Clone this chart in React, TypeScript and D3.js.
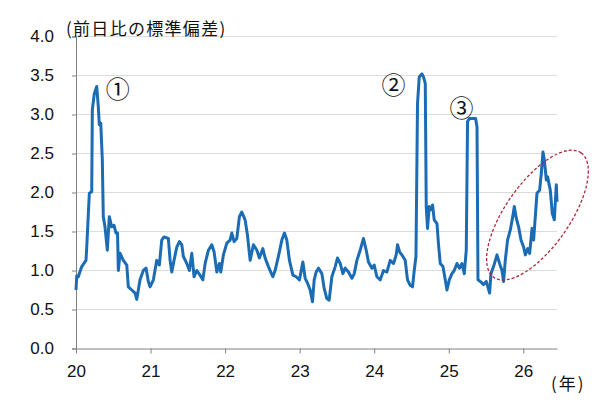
import React, { useRef, useEffect } from 'react';
import * as d3 from 'd3';

// year (20 = 2020) and standard deviation of day-on-day change
const years = [
  20.0, 20.01, 20.031, 20.077, 20.134, 20.144, 20.179, 20.211, 20.219, 20.246, 20.278, 20.299, 20.313, 20.332,
  20.353, 20.366, 20.389, 20.42, 20.447, 20.479, 20.51, 20.537, 20.557, 20.568, 20.591, 20.635, 20.681, 20.702,
  20.748, 20.792, 20.815, 20.859, 20.903, 20.94, 20.97, 20.993, 21.038, 21.083, 21.118, 21.15, 21.181, 21.239,
  21.262, 21.285, 21.315, 21.352, 21.387, 21.419, 21.44, 21.486, 21.521, 21.553, 21.584, 21.62, 21.664, 21.701,
  21.732, 21.776, 21.821, 21.852, 21.889, 21.923, 21.942, 21.977, 22.023, 22.067, 22.09, 22.121, 22.157, 22.192,
  22.224, 22.268, 22.299, 22.336, 22.38, 22.426, 22.46, 22.506, 22.537, 22.581, 22.64, 22.671, 22.715, 22.761,
  22.796, 22.828, 22.863, 22.909, 22.953, 22.997, 23.043, 23.074, 23.105, 23.141, 23.172, 23.195, 23.221, 23.252,
  23.298, 23.329, 23.365, 23.396, 23.432, 23.477, 23.507, 23.544, 23.58, 23.611, 23.655, 23.701, 23.732, 23.768,
  23.812, 23.856, 23.893, 23.923, 23.969, 24.0, 24.036, 24.081, 24.125, 24.17, 24.215, 24.259, 24.295, 24.313,
  24.34, 24.385, 24.416, 24.447, 24.483, 24.514, 24.537, 24.56, 24.581, 24.604, 24.64, 24.662, 24.685, 24.698,
  24.715, 24.738, 24.761, 24.783, 24.805, 24.842, 24.863, 24.886, 24.922, 24.953, 24.976, 25.007, 25.043, 25.074,
  25.11, 25.145, 25.177, 25.208, 25.235, 25.252, 25.279, 25.333, 25.36, 25.379, 25.392, 25.423, 25.467, 25.503,
  25.548, 25.566, 25.601, 25.647, 25.682, 25.714, 25.736, 25.758, 25.789, 25.826, 25.862, 25.879, 25.906, 25.937,
  25.969, 26.004, 26.027, 26.058, 26.085, 26.117, 26.138, 26.161, 26.183, 26.219, 26.242, 26.264, 26.282, 26.309,
  26.326, 26.362, 26.389, 26.416, 26.443, 26.452,
];
const values = [
  0.75, 0.93, 0.92, 1.05, 1.13, 1.3, 1.99, 2.01, 3.06, 3.27, 3.36, 3.1, 2.87, 2.89,
  2.42, 1.69, 1.56, 1.26, 1.69, 1.56, 1.58, 1.48, 1.48, 1.0, 1.22, 1.13, 1.07, 0.79,
  0.75, 0.71, 0.63, 0.88, 1.0, 1.03, 0.86, 0.79, 0.88, 1.13, 1.07, 1.39, 1.43, 1.41,
  1.13, 0.98, 1.13, 1.3, 1.37, 1.33, 1.18, 1.09, 1.0, 1.22, 0.92, 1.0, 0.94, 0.88,
  1.09, 1.26, 1.33, 1.24, 0.98, 1.09, 0.98, 1.2, 1.35, 1.39, 1.48, 1.37, 1.41, 1.69,
  1.75, 1.65, 1.46, 1.13, 1.33, 1.26, 1.16, 1.28, 1.16, 1.05, 0.92, 1.0, 1.18, 1.39,
  1.48, 1.39, 1.13, 0.94, 0.92, 0.88, 1.11, 0.9, 0.84, 0.75, 0.6, 0.88, 0.98, 1.03,
  0.96, 0.77, 0.64, 0.62, 0.92, 1.05, 1.16, 1.09, 0.96, 1.03, 0.98, 0.9, 0.96, 1.13,
  1.26, 1.41, 1.26, 1.11, 1.03, 1.07, 0.92, 0.88, 1.0, 0.98, 1.13, 1.09, 1.2, 1.33,
  1.24, 1.18, 1.13, 0.88, 0.81, 0.79, 1.0, 1.18, 3.14, 3.48, 3.52, 3.48, 3.4, 1.82,
  1.54, 1.82, 1.78, 1.84, 1.65, 1.6, 1.33, 1.09, 1.05, 0.88, 0.75, 0.88, 0.96, 1.0,
  1.09, 1.03, 1.09, 0.96, 1.26, 2.91, 2.95, 2.95, 2.95, 2.84, 0.88, 0.86, 0.82, 0.86,
  0.71, 0.96, 1.05, 1.2, 1.09, 1.0, 0.86, 1.13, 1.39, 1.52, 1.71, 1.82, 1.67, 1.56,
  1.39, 1.3, 1.2, 1.28, 1.22, 1.54, 1.39, 1.69, 1.99, 2.03, 2.25, 2.52, 2.42, 2.16,
  2.2, 2.03, 1.73, 1.65, 2.1, 1.88,
];

const xTicks = [20, 21, 22, 23, 24, 25, 26];
const yTicks = [0, 0.5, 1, 1.5, 2, 2.5, 3, 3.5, 4];

// event markers: label, year, level
const markLabels = ['①', '②', '③'];
const markYears = [20.56, 24.26, 25.17];
const markValues = [3.35, 3.4, 3.1];

const App = () => {
  const chartRef = useRef(null);

  useEffect(() => {
    document.body.style.margin = '0';
    const width = 600;
    const height = 408;
    const margin = { top: 36.5, right: 43, bottom: 59.5, left: 76 };

    d3.select(chartRef.current).select('svg').remove();

    const svg = d3.select(chartRef.current)
      .append('svg')
      .attr('width', width)
      .attr('height', height)
      .style('display', 'block')
      .style('background', '#fff');

    const x = d3.scaleLinear().domain([20, 26.452]).range([margin.left, width - margin.right]);
    const y = d3.scaleLinear().domain([0, 4]).range([height - margin.bottom, margin.top]);

    const numFont = '"Liberation Sans", Arial, sans-serif';
    const jpFont = '"Noto Sans CJK JP", "Noto Sans", sans-serif';

    // gridlines
    svg.append('g')
      .selectAll('line')
      .data(yTicks.filter(d => d > 0))
      .enter()
      .append('line')
      .attr('x1', margin.left)
      .attr('x2', width - margin.right)
      .attr('y1', d => y(d))
      .attr('y2', d => y(d))
      .attr('stroke', '#dcdcdc')
      .attr('stroke-width', 1);

    // y axis
    const yAxis = svg.append('g')
      .attr('transform', `translate(${margin.left},0)`)
      .call(d3.axisLeft(y).tickValues(yTicks).tickSize(4).tickPadding(18).tickFormat(d3.format('.1f')));
    yAxis.select('.domain').attr('stroke', '#808080');
    yAxis.selectAll('.tick line').attr('stroke', '#808080');
    yAxis.selectAll('text')
      .attr('fill', '#111')
      .style('font-family', numFont)
      .style('font-size', '17px');

    // x axis
    const xAxis = svg.append('g')
      .attr('transform', `translate(0,${y(0)})`)
      .call(d3.axisBottom(x).tickValues(xTicks).tickSize(5).tickSizeOuter(0).tickPadding(11).tickFormat(d3.format('d')));
    xAxis.select('.domain').attr('stroke', '#808080');
    xAxis.selectAll('.tick line').attr('stroke', '#808080');
    xAxis.selectAll('text')
      .attr('fill', '#111')
      .style('font-family', numFont)
      .style('font-size', '17px');

    // series line
    const pts = years.map((yr, i) => [yr, values[i]]);
    const line = d3.line()
      .x(d => x(d[0]))
      .y(d => y(d[1]));

    svg.append('path')
      .datum(pts)
      .attr('d', line)
      .attr('fill', 'none')
      .attr('stroke', '#1b6cb5')
      .attr('stroke-width', 3)
      .attr('stroke-linejoin', 'round');

    // event labels
    svg.selectAll('.mark')
      .data(markLabels)
      .enter()
      .append('text')
      .attr('class', 'mark')
      .attr('x', (d, i) => x(markYears[i]))
      .attr('y', (d, i) => y(markValues[i]))
      .attr('text-anchor', 'middle')
      .attr('dominant-baseline', 'central')
      .attr('fill', '#111')
      .style('font-family', jpFont)
      .style('font-size', '24px')
      .text(d => d);

    // dashed ellipse around recent rise
    const cx = x(26.19);
    const cy = y(1.71);
    svg.append('ellipse')
      .attr('cx', cx)
      .attr('cy', cy)
      .attr('rx', 76)
      .attr('ry', 32)
      .attr('transform', `rotate(-55,${cx},${cy})`)
      .attr('fill', 'none')
      .attr('stroke', '#b0283a')
      .attr('stroke-width', 1.3)
      .attr('stroke-dasharray', '3,2');

    // title and unit
    svg.append('text')
      .attr('x', 66)
      .attr('y', 35)
      .attr('fill', '#111')
      .style('font-family', jpFont)
      .style('font-size', '17px')
      .style('letter-spacing', '1.3px')
      .text('(前日比の標準偏差)');

    svg.append('text')
      .attr('x', 551)
      .attr('y', 390)
      .attr('fill', '#111')
      .style('font-family', jpFont)
      .style('font-size', '17px')
      .style('letter-spacing', '2px')
      .text('(年)');
  }, []);

  return <div ref={chartRef}></div>;
};

export default App;
